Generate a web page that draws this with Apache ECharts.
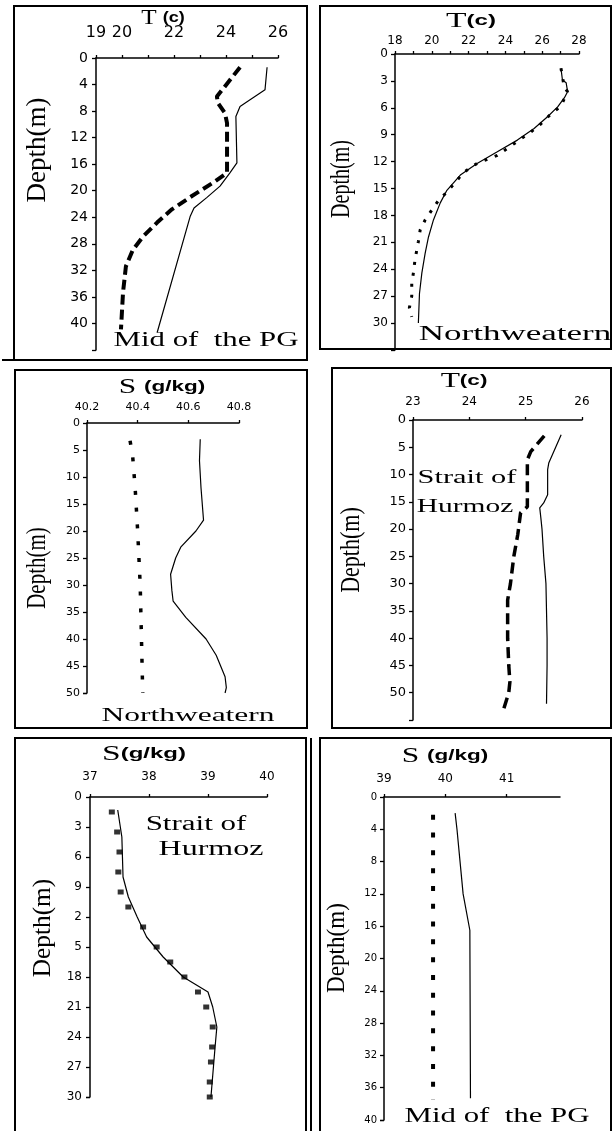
<!DOCTYPE html>
<html>
<head>
<meta charset="utf-8">
<script src="https://cdn.jsdelivr.net/npm/echarts@6/dist/echarts.min.js"></script>
<style>
  html, body { margin: 0; padding: 0; background: #fff; }
  #chart { width: 613px; height: 1131px; }
</style>
</head>
<body>
<div id="chart"></div>
<script>
// ---- Mid of the PG: temperature profiles (T in °C vs depth in m) ----
const midTempSolidDepth = [1.4, 4.8, 6.6, 7.3, 8.8, 15.8, 17.3, 19.3, 21.0, 22.6, 23.9, 41.4];
const midTempSolid      = [25.58, 25.50, 24.81, 24.54, 24.38, 24.42, 24.15, 23.77, 23.27, 22.77, 22.62, 21.35];
const midTempDashDepth  = [1.4, 5.8, 6.8, 8.3, 9.8, 17.3, 18.8, 20.8, 22.8, 24.8, 26.9, 28.9, 31.4, 35.3, 40.9];
const midTempDash       = [24.54, 23.65, 23.69, 23.96, 24.04, 24.04, 23.50, 22.69, 21.92, 21.35, 20.81, 20.42, 20.15, 20.04, 19.96];
const midTempTicksX  = [19, 20, 21, 22, 23, 24, 25, 26];
const midTempLabelsX = [19, 20, 22, 24, 26];
const midTempLabelsY = [0, 4, 8, 12, 16, 20, 24, 28, 32, 36, 40];

// ---- Northwestern: temperature profiles ----
const nwTempSolidDepth = [1.6, 2.9, 3.2, 4.2, 4.9, 5.9, 7.0, 8.3, 9.6, 10.9, 12.2, 13.5, 15.2, 16.6, 18.5, 20.4, 22.2, 24.4, 26.7, 30.0];
const nwTempSolid      = [27.02, 27.10, 27.30, 27.38, 27.20, 26.84, 26.29, 25.56, 24.65, 23.56, 22.46, 21.55, 20.82, 20.46, 20.09, 19.82, 19.64, 19.46, 19.33, 19.27];
const nwTempDotDepth   = [1.6, 3.7, 4.2, 5.8, 6.7, 7.8, 8.7, 11.3, 12.2, 13.2, 14.3, 15.4, 16.3, 17.4, 18.5, 19.6, 20.9, 22.9, 24.4, 25.6, 27.0, 28.3, 29.3];
const nwTempDot        = [27.02, 27.20, 27.38, 27.02, 26.47, 25.92, 25.38, 23.56, 22.46, 21.73, 21.28, 20.82, 20.37, 20.00, 19.64, 19.37, 19.27, 19.09, 19.00, 18.91, 18.91, 18.78, 18.91];
const nwTempTicksX  = [18, 19, 20, 21, 22, 23, 24, 25, 26, 27, 28];
const nwTempLabelsX = [18, 20, 22, 24, 26, 28];
const nwTempLabelsY = [0, 3, 6, 9, 12, 15, 18, 21, 24, 27, 30];

// ---- Northwestern: salinity profiles (S in g/kg) ----
const nwSalSolidDepth = [3, 7, 12, 18, 20, 23, 25, 28, 31, 33, 36, 40, 43, 47, 49, 50];
const nwSalSolid      = [40.647, 40.644, 40.650, 40.660, 40.630, 40.570, 40.550, 40.530, 40.535, 40.540, 40.590, 40.670, 40.710, 40.745, 40.750, 40.745];
const nwSalDotDepth   = [3.3, 6, 12, 20, 30, 40, 50];
const nwSalDot        = [40.37, 40.38, 40.39, 40.40, 40.41, 40.415, 40.42];
const nwSalLabelsX = [40.2, 40.4, 40.6, 40.8];
const nwSalLabelsY = [0, 5, 10, 15, 20, 25, 30, 35, 40, 45, 50];

// ---- Strait of Hurmoz: temperature profiles ----
const hzTempSolidDepth = [2.7, 7.9, 9.1, 13.7, 15.2, 16.1, 18, 20, 25, 30, 35, 40, 45, 52];
const hzTempSolid      = [25.63, 25.41, 25.39, 25.39, 25.32, 25.25, 25.27, 25.29, 25.32, 25.36, 25.37, 25.38, 25.38, 25.37];
const hzTempDashDepth  = [2.9, 5.8, 7.3, 15.9, 17, 21, 25, 30, 33, 40, 45, 48, 50, 53];
const hzTempDash       = [25.33, 25.09, 25.03, 25.03, 24.91, 24.86, 24.79, 24.73, 24.68, 24.68, 24.70, 24.72, 24.70, 24.61];
const hzTempLabelsX = [23, 24, 25, 26];
const hzTempLabelsY = [0, 5, 10, 15, 20, 25, 30, 35, 40, 45, 50];

// ---- Strait of Hurmoz: salinity profiles ----
const hzSalSolidDepth = [1.3, 4, 8, 10, 12, 14, 16, 18, 19.5, 21, 23, 25, 30];
const hzSalSolid      = [37.47, 37.54, 37.56, 37.65, 37.80, 37.96, 38.24, 38.58, 39.00, 39.08, 39.15, 39.12, 39.05];
const hzSalDotDepth   = [1.5, 3.5, 5.5, 7.5, 9.5, 11, 13, 15, 16.5, 18, 19.5, 21, 23, 25, 26.5, 28.5, 30];
const hzSalDot        = [37.37, 37.46, 37.50, 37.48, 37.52, 37.65, 37.90, 38.13, 38.36, 38.60, 38.83, 38.97, 39.08, 39.07, 39.05, 39.03, 39.03];
const hzSalLabelsX = [37, 38, 39, 40];
const hzSalTicksY  = [0, 3, 6, 9, 12, 15, 18, 21, 24, 27, 30];
const hzSalTextY   = ['0', '3', '6', '9', '2', '5', '18', '21', '24', '27', '30'];

// ---- Mid of the PG: salinity profiles ----
const midSalSolidDepth = [2, 4, 8, 12, 16.5, 37.3];
const midSalSolid      = [40.16, 40.19, 40.24, 40.29, 40.40, 40.41];
const midSalDotDepth   = [2.2, 37.5];
const midSalDot        = [39.80, 39.80];
const midSalLabelsX = [39, 40, 41];
const midSalLabelsY = [0, 4, 8, 12, 16, 20, 24, 28, 32, 36, 40];

const BLACK = '#000';
const pairs = (vals, depths) => vals.map((v, i) => [v, depths[i]]);

// one panel = one grid with a top value axis and an inverted depth axis
const panels = [
  { grid: { left: 96,  top: 58,  width: 182, height: 292 }, x: [19, 26],    y: 44,
    xTicks: midTempTicksX, xLabels: midTempLabelsX, yLabels: midTempLabelsY,
    xFont: 16, yFont: 14, xMargin: 17, yMargin: 8 },
  { grid: { left: 395, top: 54,  width: 184, height: 296 }, x: [18, 28],    y: 33,
    xTicks: nwTempTicksX, xLabels: nwTempLabelsX, yLabels: nwTempLabelsY,
    xFont: 12, yFont: 12, xMargin: 7, yMargin: 7 },
  { grid: { left: 87,  top: 423, width: 152, height: 270 }, x: [40.2, 40.8], y: 50,
    xTicks: nwSalLabelsX, xLabels: nwSalLabelsX, yLabels: nwSalLabelsY,
    xFont: 11, yFont: 11, xMargin: 10, yMargin: 7, xFmt: v => v.toFixed(1) },
  { grid: { left: 413, top: 420, width: 169, height: 300 }, x: [23, 26],    y: 55,
    xTicks: hzTempLabelsX, xLabels: hzTempLabelsX, yLabels: hzTempLabelsY,
    xFont: 12, yFont: 13, xMargin: 12, yMargin: 7 },
  { grid: { left: 90,  top: 797, width: 177, height: 300 }, x: [37, 40],    y: 30,
    xTicks: hzSalLabelsX, xLabels: hzSalLabelsX, yLabels: hzSalTicksY,
    xFont: 12, yFont: 12, xMargin: 14, yMargin: 8,
    yFmt: v => hzSalTextY[hzSalTicksY.indexOf(v)] },
  { grid: { left: 384, top: 797, width: 176, height: 323 }, x: [39, 41.87], y: 40,
    xTicks: midSalLabelsX, xLabels: midSalLabelsX, yLabels: midSalLabelsY,
    xFont: 12, yFont: 10, xMargin: 12, yMargin: 7 }
];

const axisLine = { show: true, lineStyle: { color: BLACK, width: 1.5 } };

const grids = panels.map(p => Object.assign({ containLabel: false }, p.grid));
const xAxes = panels.map((p, i) => ({
  type: 'value', gridIndex: i, position: 'top', min: p.x[0], max: p.x[1],
  axisLine: axisLine,
  axisTick: { show: true, inside: false, length: 3, customValues: p.xTicks, lineStyle: { color: BLACK, width: 1.3 } },
  axisLabel: { show: true, customValues: p.xLabels, color: BLACK, fontFamily: 'DejaVu Sans',
               fontSize: p.xFont, margin: p.xMargin, formatter: p.xFmt || (v => String(v)) },
  splitLine: { show: false }
}));
const yAxes = panels.map((p, i) => ({
  type: 'value', gridIndex: i, inverse: true, min: 0, max: p.y,
  axisLine: axisLine,
  axisTick: { show: true, inside: false, length: 4, customValues: p.yLabels.concat([p.y]), lineStyle: { color: BLACK, width: 1.3 } },
  axisLabel: { show: true, customValues: p.yLabels, color: BLACK, fontFamily: 'DejaVu Sans',
               fontSize: p.yFont, margin: p.yMargin, formatter: p.yFmt || (v => String(v)) },
  splitLine: { show: false }
}));

function solid(i, vals, depths) {
  return { type: 'line', xAxisIndex: i, yAxisIndex: i, data: pairs(vals, depths),
    showSymbol: false, symbol: 'none', lineStyle: { color: BLACK, width: 1.2 }, z: 3 };
}
function broken(i, vals, depths, width, dash) {
  return { type: 'line', xAxisIndex: i, yAxisIndex: i, data: pairs(vals, depths),
    showSymbol: false, symbol: 'none', lineStyle: { color: BLACK, width: width, type: dash, cap: 'butt' }, z: 4 };
}

const series = [
  solid(0, midTempSolid, midTempSolidDepth),
  broken(0, midTempDash, midTempDashDepth, 4, [10, 5]),
  solid(1, nwTempSolid, nwTempSolidDepth),
  broken(1, nwTempDot, nwTempDotDepth, 3, [3, 8]),
  solid(2, nwSalSolid, nwSalSolidDepth),
  broken(2, nwSalDot, nwSalDotDepth, 3.5, [4, 12.8]),
  solid(3, hzTempSolid, hzTempSolidDepth),
  broken(3, hzTempDash, hzTempDashDepth, 3.5, [11, 6]),
  solid(4, hzSalSolid, hzSalSolidDepth),
  { type: 'scatter', xAxisIndex: 4, yAxisIndex: 4, data: pairs(hzSalDot, hzSalDotDepth),
    symbol: 'rect', symbolSize: [6, 5], itemStyle: { color: BLACK }, z: 4 },
  solid(5, midSalSolid, midSalSolidDepth),
  broken(5, midSalDot, midSalDotDepth, 4, [5, 12.8])
];

// panel frames
function frame(x1, y1, x2, y2) {
  return { type: 'rect', shape: { x: x1, y: y1, width: x2 - x1, height: y2 - y1 },
           style: { fill: null, stroke: BLACK, lineWidth: 2 }, z: 1, silent: true };
}
function rule(x1, y1, x2, y2) {
  return { type: 'line', shape: { x1: x1, y1: y1, x2: x2, y2: y2 },
           style: { stroke: BLACK, lineWidth: 2 }, z: 1, silent: true };
}
// free text: centred at (x, y), optionally stretched / rotated
function label(text, x, y, size, sx, opts) {
  opts = opts || {};
  return { type: 'text', x: x, y: y, rotation: opts.rot || 0, scaleX: sx, scaleY: opts.sy || 1, z: 50,
    style: { text: text, fontFamily: 'Liberation Serif', fontSize: size, fill: BLACK,
             align: 'center', verticalAlign: 'middle', textAlign: 'center', textVerticalAlign: 'middle',
             backgroundColor: opts.bg || null, padding: opts.bg ? [0, 1] : 0, rich: opts.rich } };
}
const unitRich = {
  s: { fontFamily: 'Liberation Serif', fontSize: 21, fill: BLACK },
  b: { fontFamily: 'Liberation Sans', fontWeight: 'bold', fontSize: 15, fill: BLACK }
};
function unitTitle(sym, unit, x, y, sx) {
  return label('{s|' + sym + '}{b|' + unit + '}', x, y, 21, sx, { rich: unitRich });
}
const depthTitle = (x, y, size, sx, sy) => label('Depth(m)', x, y, size, sx, { rot: Math.PI / 2, sy: sy });

const graphics = [
  frame(14, 6, 307, 360),
  rule(2, 360, 307, 360),
  frame(320, 6, 611, 349),
  frame(15, 370, 307, 728),
  frame(332, 368, 611, 728),
  frame(15, 738, 306, 1140),
  rule(311, 738, 311, 1131),
  frame(320, 738, 611, 1140),

  unitTitle('T ', '(c)', 163, 18, 1.2),
  unitTitle('T', '(c)', 471, 21, 1.6),
  unitTitle('S ', '(g/kg)', 162, 387, 1.5),
  unitTitle('T', '(c)', 464, 381, 1.5),
  unitTitle('S', '(g/kg)', 144, 754, 1.6),
  unitTitle('S ', '(g/kg)', 445, 756, 1.5),

  depthTitle(38, 150, 27, 1, 1),
  depthTitle(342, 179, 20, 1, 1.35),
  depthTitle(38, 568, 21, 1, 1.25),
  depthTitle(352, 550, 21, 1.05, 1.25),
  depthTitle(43, 928, 23, 1.1, 1.1),
  depthTitle(337, 948, 22, 1.05, 1.15),

  label('Mid of  the PG', 206, 340, 22, 1.4),
  label('Northweatern', 515, 335, 20, 1.75),
  label('Northweatern', 188, 716, 18, 1.75),
  label('Strait of', 467, 478, 19, 1.6, { bg: '#fff' }),
  label('Hurmoz', 465, 507, 19, 1.55, { bg: '#fff' }),
  label('Strait of', 196, 825, 20, 1.55),
  label('Hurmoz', 211, 850, 20, 1.6),
  label('Mid of  the PG', 497, 1116, 22, 1.4)
];

const chart = echarts.init(document.getElementById('chart'), null, { renderer: 'canvas' });
chart.setOption({
  backgroundColor: '#fff',
  animation: false,
  grid: grids,
  xAxis: xAxes,
  yAxis: yAxes,
  series: series,
  graphic: { elements: graphics }
});
</script>
</body>
</html>
